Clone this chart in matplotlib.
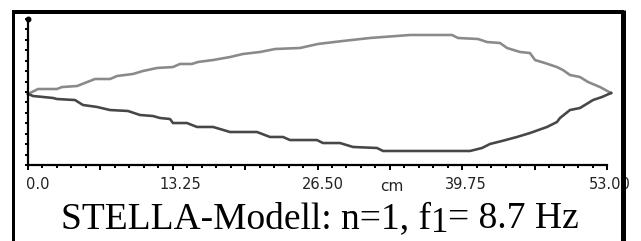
import matplotlib
matplotlib.use("Agg")
import matplotlib.pyplot as plt
import matplotlib.transforms as mtransforms
from matplotlib.lines import Line2D
import numpy as np

W, H = 641, 241
DPI = 100

# position along the string (cm) and displacement (relative units)
upper_x = [0.00, 0.92, 2.65, 3.11, 4.49, 6.13, 7.51, 8.15, 9.61, 10.53, 11.81, 13.27,
           13.91, 15.01, 15.56, 16.94, 18.49, 19.68, 21.24, 22.61, 24.90, 26.55, 28.83,
           31.31, 34.97, 38.81, 39.36, 41.19, 42.01, 43.21, 43.85, 45.04, 45.95, 46.41,
           47.32, 48.42, 48.97, 49.61, 50.53, 51.26, 52.36, 53.37]
upper_y = [-0.027, 0.041, 0.041, 0.068, 0.082, 0.178, 0.178, 0.219, 0.247, 0.288, 0.329,
           0.342, 0.384, 0.384, 0.411, 0.438, 0.479, 0.521, 0.548, 0.589, 0.603, 0.658,
           0.699, 0.740, 0.781, 0.781, 0.740, 0.726, 0.685, 0.671, 0.603, 0.548, 0.534,
           0.438, 0.397, 0.342, 0.301, 0.233, 0.205, 0.137, 0.068, -0.014]

lower_x = [0.00, 0.46, 1.37, 2.29, 2.65, 4.30, 5.03, 6.32, 7.51, 9.15, 10.25, 11.44,
           12.08, 13.00, 13.27, 14.55, 15.47, 16.94, 17.58, 18.49, 20.96, 22.15, 23.34,
           23.98, 26.45, 27.00, 28.56, 29.75, 31.95, 32.50, 40.46, 41.56, 42.29, 43.39,
           44.76, 45.95, 47.51, 48.42, 48.70, 49.61, 50.53, 51.72, 52.55, 53.37]
lower_y = [-0.027, -0.055, -0.068, -0.082, -0.096, -0.110, -0.178, -0.205, -0.247,
           -0.260, -0.315, -0.329, -0.356, -0.370, -0.425, -0.425, -0.479, -0.479,
           -0.507, -0.548, -0.548, -0.616, -0.616, -0.658, -0.658, -0.699, -0.699,
           -0.753, -0.767, -0.808, -0.808, -0.767, -0.712, -0.671, -0.616, -0.562,
           -0.479, -0.411, -0.356, -0.247, -0.219, -0.110, -0.068, -0.014]

x_max = 53.0
x_labels = ["0.0", "", "13.25", "", "26.50", "", "39.75", "", "53.00"]
title_parts = ["STELLA-Modell: n=1, f", "1", "= 8.7 Hz"]


def px(v):
    # pixels -> points
    return v * 72.0 / DPI


fig = plt.figure(figsize=(W / DPI, H / DPI), dpi=DPI)

# outer frame (open at the bottom)
for xs, ys, lw in [([12.5, 12.5], [12, H + 5], 3),
                   ([12, 624], [12, 12], 4),
                   ([623, 623], [10, H + 5], 5)]:
    fig.add_artist(Line2D([x / W for x in xs], [1 - y / H for y in ys],
                          transform=fig.transFigure, color="black", lw=px(lw),
                          solid_capstyle="butt"))

ax = fig.add_axes([28 / W, (H - 165) / H, 579 / W, 146 / H])
ax.plot(upper_x, upper_y, color="#8a8a8a", lw=px(2.6), clip_on=False)
ax.plot(lower_x, lower_y, color="#474747", lw=px(2.6), clip_on=False)

ax.set_xlim(0, x_max)
ax.set_ylim(-1, 1)
for side in ["top", "right"]:
    ax.spines[side].set_visible(False)
for side in ["left", "bottom"]:
    ax.spines[side].set_linewidth(px(2.2))
ax.plot([0], [1], "o", color="black", ms=px(4.5), clip_on=False)

ax.set_xticks(np.linspace(0, x_max, 9))
ax.set_xticklabels(x_labels)
ax.set_xticks(np.linspace(0, x_max, 41), minor=True)
ax.tick_params(axis="x", which="major", direction="out", length=px(5), width=px(2),
               pad=px(7), labelsize=10.5, labelcolor="#222222")
ax.tick_params(axis="x", which="minor", direction="out", length=px(2.5), width=px(2))
for lab, dx in zip(ax.get_xticklabels(), [10, 0, 8, 0, 5, 0, 4, 0, 3]):
    lab.set_transform(lab.get_transform() +
                      mtransforms.ScaledTranslation(dx / DPI, 0, fig.dpi_scale_trans))

ax.set_yticks(np.linspace(-1, 1, 15))
ax.set_yticklabels([])
ax.tick_params(axis="y", direction="out", length=px(3), width=px(2))

ax.set_xlabel("cm", fontsize=11, color="#222222")
ax.xaxis.set_label_coords((392 - 28) / 579, -14 / 146)

# caption with a lowered "1", pieces placed one after another in pixels
baseline = 13
ident = mtransforms.IdentityTransform()
t1 = fig.text(61, baseline, title_parts[0], family="Liberation Serif", fontsize=27,
              ha="left", va="baseline", transform=ident)
fig.canvas.draw()
r = fig.canvas.get_renderer()
t2 = fig.text(t1.get_window_extent(r).x1, baseline - 4, title_parts[1],
              family="Liberation Serif", fontsize=25, ha="left", va="baseline",
              transform=ident)
fig.canvas.draw()
t3 = fig.text(t2.get_window_extent(r).x1, baseline, title_parts[2],
              family="Liberation Serif", fontsize=27, ha="left", va="baseline",
              transform=ident)

fig.savefig("out.png", dpi=DPI)
